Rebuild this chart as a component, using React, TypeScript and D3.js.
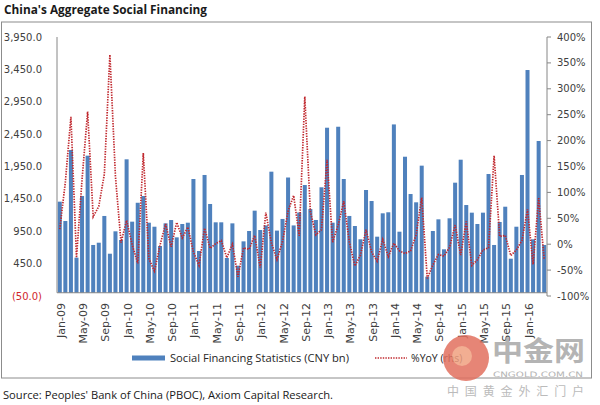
import React from "react";
import * as d3 from "d3";

const MONTHS = ["Jan", "Feb", "Mar", "Apr", "May", "Jun", "Jul", "Aug", "Sep", "Oct", "Nov", "Dec"];
const YEARS = ["09", "10", "11", "12", "13", "14", "15", "16"];

// Social Financing Statistics (CNY bn), monthly
const sf2009 = [1407, 1108, 2205, 542, 1494, 2117, 738, 773, 1186, 603, 949, 815];
const sf2010 = [2061, 1098, 1390, 1494, 1082, 1020, 722, 1072, 1123, 856, 1062, 1082];
const sf2011 = [1757, 645, 1819, 1371, 1088, 1088, 537, 1072, 418, 794, 954, 1268];
const sf2012 = [969, 1040, 1870, 960, 1140, 1780, 1040, 1240, 1664, 1293, 1124, 1629];
const sf2013 = [2549, 1082, 2564, 1757, 1186, 1031, 826, 1587, 1417, 866, 1227, 1243];
const sf2014 = [2600, 943, 2101, 1525, 1397, 1963, 248, 954, 1134, 671, 1150, 1700];
const sf2015 = [2055, 1355, 1237, 1062, 1237, 1834, 738, 1093, 1329, 526, 1020, 1819];
const sf2016 = [3440, 826, 2344, 738];

// %YoY (rhs)
const yoy2009 = [29, 120, 246, -26, 125, 256, 53, 73, 135, 366, 130, 3];
const yoy2010 = [46, -1, -37, 176, -28, -52, -2, 39, -5, 42, 12, 33];
const yoy2011 = [-15, -41, 31, -8, 1, 7, -26, 0, -63, -7, -10, 17];
const yoy2012 = [-45, 61, 3, -30, 5, 64, 94, 16, 285, 63, 18, 28];
const yoy2013 = [163, 4, 37, 83, 4, -42, -21, 28, -15, -33, 9, -24];
const yoy2014 = [2, -13, -18, -13, 18, 90, -66, -40, -20, -23, -6, 37];
const yoy2015 = [-21, 44, -41, -30, -11, -7, 171, 15, 17, -22, -11, 7];
const yoy2016 = [67, -39, 89, -30];

const leftTicks = [3950, 3450, 2950, 2450, 1950, 1450, 950, 450, -50];
const rightTicks = [400, 350, 300, 250, 200, 150, 100, 50, 0, -50, -100];

const sfValues = [...sf2009, ...sf2010, ...sf2011, ...sf2012, ...sf2013, ...sf2014, ...sf2015, ...sf2016];
const yoyValues = [...yoy2009, ...yoy2010, ...yoy2011, ...yoy2012, ...yoy2013, ...yoy2014, ...yoy2015, ...yoy2016];
const categories = YEARS.flatMap((y) => MONTHS.map((m) => `${m}-${y}`)).slice(0, sfValues.length);

const W = 600;
const H = 405;
const X0 = 57;
const X1 = 547;
const YT = 37;
const YB = 296;

const fmtLeft = (v: number) => {
  const s = d3.format(",.1f")(Math.abs(v));
  return v < 0 ? `(${s})` : s;
};

export default function App() {
  const x = d3.scaleBand<string>().domain(categories).range([X0, X1]).paddingInner(0.28).paddingOuter(0.14);
  const yL = d3.scaleLinear().domain([-50, 3950]).range([YB, YT]);
  const yR = d3.scaleLinear().domain([-100, 400]).range([YB, YT]);
  const cx = (c: string) => (x(c) as number) + x.bandwidth() / 2;

  const line = d3
    .line<number>()
    .x((_, i) => cx(categories[i]))
    .y((d) => yR(d));

  const axisColor = "#868686";
  const red = "#c0282e";
  const blue = "#4f81bd";
  const font = "'DejaVu Sans', Verdana, sans-serif";

  return (
    <svg width={W} height={H} style={{ position: "absolute", left: 0, top: 0, background: "#fff" }}>
      <rect x={0} y={0} width={W} height={H} fill="#fff" />
      <text x={4} y={14} fontFamily="'Open Sans', sans-serif" fontWeight="bold" fontSize={13} fill="#1a1a1a" textLength={203} lengthAdjust="spacingAndGlyphs">
        China's Aggregate Social Financing
      </text>
      <rect x={1.5} y={22} width={590} height={356} fill="none" stroke="#8c8c8c" strokeWidth={1} />

      {/* bars */}
      {sfValues.map((v, i) => (
        <rect key={i} x={x(categories[i])} y={yL(Math.max(v, 0))} width={x.bandwidth()} height={Math.abs(yL(v) - yL(0))} fill={blue} />
      ))}

      {/* axes */}
      <line x1={X0} x2={X0} y1={YT} y2={yL(0)} stroke={axisColor} />
      <line x1={X1} x2={X1} y1={YT} y2={YB} stroke={axisColor} />
      <line x1={X0} x2={X1} y1={yL(0)} y2={yL(0)} stroke={axisColor} />
      {rightTicks.map((t) => (
        <line key={t} x1={X1} x2={X1 + 4} y1={yR(t)} y2={yR(t)} stroke={axisColor} />
      ))}

      {leftTicks.map((t) => (
        <text key={t} x={42} y={yL(t)} dy="0.35em" textAnchor="end" fontFamily={font} fontSize={10} fill={t < 0 ? "#d0262c" : "#404040"}>
          {fmtLeft(t)}
        </text>
      ))}
      {rightTicks.map((t) => (
        <text key={t} x={557} y={yR(t)} dy="0.35em" textAnchor="start" fontFamily={font} fontSize={10} fill="#404040">
          {`${t}%`}
        </text>
      ))}
      {categories.map((c, i) =>
        i % 4 === 0 ? (
          <text key={c} transform={`translate(${cx(c) + 1.5},303) rotate(-90)`} textAnchor="end" dominantBaseline="central" fontFamily={font} fontSize={11} fill="#404040">
            {c}
          </text>
        ) : null
      )}

      {/* YoY line */}
      <path d={line(yoyValues) || ""} fill="none" stroke={red} strokeWidth={1.7} strokeDasharray="1.4 1.2" />

      {/* legend */}
      <rect x={132} y={355.5} width={33} height={5} fill={blue} />
      <text x={170} y={362} fontFamily="'Open Sans', sans-serif" fontSize={10.5} fill="#262626" textLength={179} lengthAdjust="spacingAndGlyphs">
        Social Financing Statistics (CNY bn)
      </text>
      <line x1={375} x2={407} y1={358} y2={358} stroke={red} strokeWidth={1.4} strokeDasharray="1.4 1.2" />
      <text x={411} y={362} fontFamily="'Open Sans', sans-serif" fontSize={10.5} fill="#262626">
        %YoY (rhs)
      </text>

      {/* source */}
      <text x={3} y={399} fontFamily="'Open Sans', sans-serif" fontSize={11} fill="#1a1a1a" textLength={330} lengthAdjust="spacingAndGlyphs">
        Source: Peoples' Bank of China (PBOC), Axiom Capital Research.
      </text>

      {/* watermark */}
      <g opacity={0.85}>
        <circle cx={466} cy={358} r={23} fill="#e2705f" />
        <circle cx={462} cy={356} r={10} fill="#f0a080" />
        <text x={492} y={361} fontFamily="'Noto Sans CJK SC', sans-serif" fontWeight="bold" fontSize={27} fill="#a8a8a8" textLength={93} lengthAdjust="spacingAndGlyphs">
          中金网
        </text>
        <text x={493} y={377} fontFamily="'DejaVu Sans', sans-serif" fontSize={7.5} fill="#a8a8a8" textLength={90} lengthAdjust="spacingAndGlyphs">
          CNGOLD.COM.CN
        </text>
        <text x={447} y={395.5} fontFamily="'Noto Sans CJK SC', sans-serif" fontSize={12} fill="#b0b0b0" textLength={137} lengthAdjust="spacing">
          中国黄金外汇门户
        </text>
      </g>
    </svg>
  );
}
